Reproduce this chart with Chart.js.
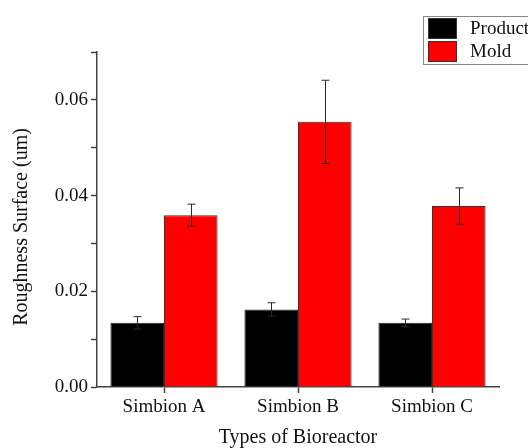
<!DOCTYPE html>
<html>
<head>
<meta charset="utf-8">
<script src="https://cdn.jsdelivr.net/npm/chart.js@4"></script>
<style>
  html, body { margin: 0; padding: 0; background: #fff; }
  #wrap { width: 528px; height: 448px; }
</style>
</head>
<body>
<div id="wrap"><canvas id="result-bar" width="528" height="448"></canvas></div>
<script>
var categories = ["Simbion A", "Simbion B", "Simbion C"];
var product = [0.0134, 0.0162, 0.0134];
var productErr = [0.0013, 0.0014, 0.0008];
var mold = [0.0359, 0.0554, 0.0378];
var moldErr = [0.0023, 0.0087, 0.0038];
var errors = [productErr, moldErr];

var serif = "'Liberation Serif', 'Times New Roman', serif";

// error bars drawn through the chart's own y scale
var errorBars = {
    id: 'errorBars',
    afterDatasetsDraw: function (chart) {
        var ctx = chart.ctx;
        var y = chart.scales.y;
        ctx.save();
        ctx.strokeStyle = '#2a2a2a';
        ctx.lineWidth = 1;
        chart.data.datasets.forEach(function (ds, i) {
            var meta = chart.getDatasetMeta(i);
            meta.data.forEach(function (bar, j) {
                var v = ds.data[j], e = errors[i][j];
                var top = y.getPixelForValue(v + e);
                var bot = y.getPixelForValue(v - e);
                var x = Math.round(bar.x) + 0.5;
                ctx.beginPath();
                ctx.moveTo(x, top);
                ctx.lineTo(x, bot);
                ctx.moveTo(x - 4, top);
                ctx.lineTo(x + 4, top);
                ctx.moveTo(x - 4, bot);
                ctx.lineTo(x + 4, bot);
                ctx.stroke();
            });
        });
        ctx.restore();
    }
};

// boxed legend in the top right corner, cut by the canvas edge like the original
var boxLegend = {
    id: 'boxLegend',
    afterDraw: function (chart) {
        var ctx = chart.ctx;
        ctx.save();
        ctx.strokeStyle = '#888';
        ctx.lineWidth = 1;
        ctx.strokeRect(423.5, 16.5, 120, 48);
        ctx.font = '19px ' + serif;
        ctx.textBaseline = 'middle';
        chart.data.datasets.forEach(function (ds, i) {
            var top = 18 + i * 23;
            ctx.fillStyle = ds.backgroundColor;
            ctx.fillRect(428, top, 29, 21);
            ctx.strokeStyle = '#333';
            ctx.strokeRect(428.5, top + 0.5, 28, 20);
            ctx.fillStyle = '#111';
            ctx.fillText(ds.label, 470, top + 11);
        });
        ctx.restore();
    }
};

var ctx = document.getElementById('result-bar');
var myBarChart = new Chart(ctx, {
    type: 'bar',
    data: {
        labels: categories,
        datasets: [{
            label: 'Product',
            data: product,
            backgroundColor: '#000000',
            borderColor: '#222',
            borderWidth: 1
        }, {
            label: 'Mold',
            data: mold,
            backgroundColor: '#ff0000',
            borderColor: '#333',
            borderWidth: 1
        }]
    },
    options: {
        responsive: false,
        animation: false,
        categoryPercentage: 0.8,
        barPercentage: 1.0,
        layout: {
            padding: { top: 52, right: 29, left: 0, bottom: 0 }
        },
        plugins: {
            legend: { display: false },
            tooltip: { enabled: false }
        },
        scales: {
            x: {
                grid: {
                    offset: false,
                    drawOnChartArea: false,
                    tickLength: 6,
                    tickColor: '#444',
                    tickWidth: 1.5
                },
                border: { color: '#444', width: 1.5 },
                ticks: {
                    color: '#111',
                    font: { family: serif, size: 19 },
                    padding: 3
                },
                title: {
                    display: true,
                    text: 'Types of Bioreactor',
                    color: '#111',
                    font: { family: serif, size: 20, lineHeight: 1.0 },
                    padding: { top: 4, bottom: 0 }
                },
                afterFit: function (scale) { scale.height = 61; }
            },
            y: {
                min: 0,
                max: 0.07,
                grid: {
                    drawOnChartArea: false,
                    tickLength: 6,
                    tickColor: '#444',
                    tickWidth: 1.5
                },
                border: { color: '#444', width: 1.5 },
                ticks: {
                    stepSize: 0.01,
                    color: '#111',
                    font: { family: serif, size: 19 },
                    padding: 3,
                    callback: function (v) {
                        var k = Math.round(v * 100);
                        return k % 2 === 0 ? (k / 100).toFixed(2) : '';
                    }
                },
                title: {
                    display: true,
                    // trailing spaces nudge the rotated title a little lower, as in the original
                    text: 'Roughness Surface (um)   ',
                    color: '#111',
                    font: { family: serif, size: 20 },
                    padding: { top: 10, bottom: 0 }
                },
                afterFit: function (scale) { scale.width = 97; }
            }
        }
    },
    plugins: [errorBars, boxLegend]
});
</script>
</body>
</html>
